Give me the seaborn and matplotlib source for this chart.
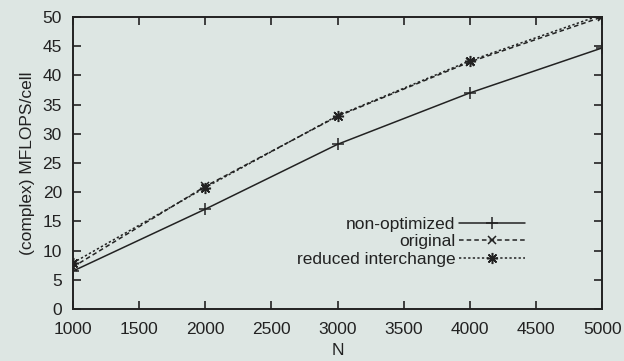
import pandas as pd
import matplotlib
matplotlib.use('Agg')
import matplotlib.pyplot as plt
import seaborn as sns

# data
n_values = [1000, 2000, 3000, 4000, 5000]
non_optimized = [6.5, 17.1, 28.2, 37.0, 44.7]
original = [7.2, 21.0, 33.0, 42.3, 50.0]
reduced_interchange = [7.9, 20.8, 33.1, 42.5, 50.4]

bg = '#dde6e3'
ink = '#222222'

sns.set_theme(style='ticks')
plt.rcParams['font.family'] = ['Liberation Sans', 'DejaVu Sans']

fig = plt.figure(figsize=(6.24, 3.61), dpi=100, facecolor=bg)
ax = fig.add_axes([0.117, 0.144, 0.848, 0.809])
ax.set_facecolor(bg)

series = [
    ('non-optimized', non_optimized, '-', '+', 9),
    ('original', original, (0, (3, 2)), 'x', 6),
    ('reduced interchange', reduced_interchange, (0, (1.5, 1.5)), (8, 2, 0), 8),
]
for name, vals, ls, mk, ms in series:
    df = pd.DataFrame({'N': n_values, 'v': vals})
    sns.lineplot(data=df, x='N', y='v', ax=ax, color=ink, linewidth=1.1,
                 linestyle=ls, marker=mk, markersize=ms, markeredgecolor=ink,
                 markeredgewidth=1.1, label=name)

ax.set_xlim(1000, 5000)
ax.set_ylim(0, 50)
ax.set_xticks(range(1000, 5001, 500))
ax.set_yticks(range(0, 51, 5))
ax.tick_params(direction='in', top=True, right=True, length=6, width=1.2,
               colors=ink, labelsize=12.5)
ax.tick_params(axis='x', pad=9)
ax.tick_params(axis='y', pad=8)
for s in ax.spines.values():
    s.set_linewidth(1.4)
    s.set_color(ink)
ax.set_xlabel('N', fontsize=12.5, color=ink, labelpad=5)
ax.set_ylabel('(complex) MFLOPS/cell', fontsize=12.5, color=ink, labelpad=5)

leg = ax.legend(loc='lower right', bbox_to_anchor=(0.854, 0.145), frameon=False,
                markerfirst=False, fontsize=12.5, handlelength=3.8,
                labelspacing=0.12, handletextpad=0.2, borderpad=0,
                borderaxespad=0)
for t in leg.get_texts():
    t.set_color(ink)

fig.savefig('out.png', dpi=100, facecolor=bg)
